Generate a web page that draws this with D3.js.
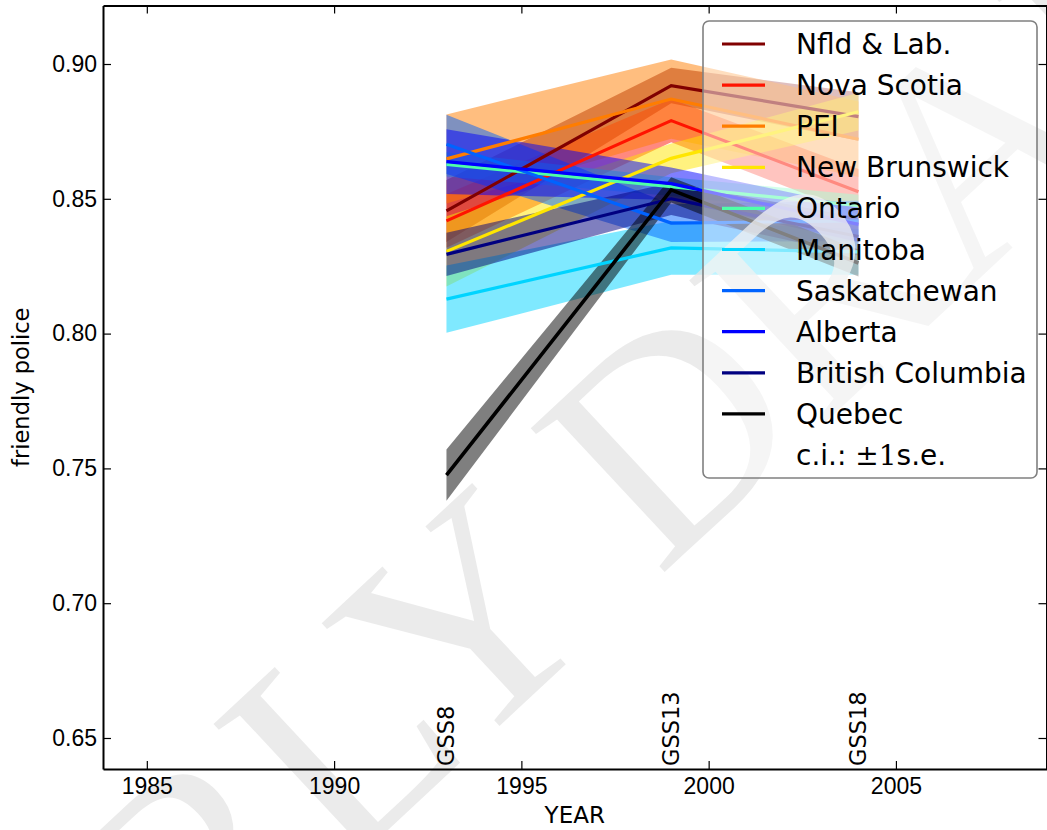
<!DOCTYPE html>
<html>
<head>
<meta charset="utf-8">
<script src="https://cdn.jsdelivr.net/npm/d3@7"></script>
<style>
  body { margin: 0; background: #fff; overflow: hidden; }
  svg { display: block; font-family: 'DejaVu Sans', sans-serif; }
</style>
</head>
<body>
<div id="chart"></div>
<script>
/* survey years and the GSS cycle that each one comes from */
const years = [1993, 1999, 2004];
const surveys = ['GSS8', 'GSS13', 'GSS18'];

/* provinces, in legend order (Quebec drawn in black) */
const provinces = ['Nfld & Lab.', 'Nova Scotia', 'PEI', 'New Brunswick', 'Ontario',
  'Manitoba', 'Saskatchewan', 'Alberta', 'British Columbia', 'Quebec'];
const colours = ['#800000', '#ff1400', '#ff7d00', '#ffe600', '#4effa9',
  '#00d4ff', '#0063ff', '#0000ff', '#000080', '#000000'];

/* mean share answering "friendly police", one value per survey year */
const nfld = [0.8455, 0.8920, 0.8805];
const novaScotia = [0.8418, 0.8790, 0.8526];
const pei = [0.8648, 0.8870, 0.8721];
const newBrunswick = [0.8305, 0.8650, 0.8823];
const ontario = [0.8628, 0.8545, 0.8475];
const manitoba = [0.8128, 0.8318, 0.8303];
const saskatchewan = [0.8702, 0.8410, 0.8418];
const alberta = [0.8638, 0.8556, 0.8405];
const britishColumbia = [0.8294, 0.8500, 0.8360];
const quebec = [0.7475, 0.8533, 0.8262];

/* standard errors (band is +/- 1 s.e.) */
const nfldSE = [0.0115, 0.0066, 0.0090];
const novaScotiaSE = [0.0100, 0.0080, 0.0085];
const peiSE = [0.0165, 0.0147, 0.0140];
const newBrunswickSE = [0.0130, 0.0055, 0.0070];
const ontarioSE = [0.0045, 0.0035, 0.0040];
const manitobaSE = [0.0125, 0.0100, 0.0085];
const saskatchewanSE = [0.0110, 0.0070, 0.0075];
const albertaSE = [0.0120, 0.0060, 0.0065];
const britishColumbiaSE = [0.0080, 0.0060, 0.0070];
const quebecSE = [0.0095, 0.0047, 0.0050];

const xTicks = [1985, 1990, 1995, 2000, 2005];
const yTicks = [0.65, 0.70, 0.75, 0.80, 0.85, 0.90];

const means = [nfld, novaScotia, pei, newBrunswick, ontario, manitoba, saskatchewan, alberta, britishColumbia, quebec];
const errs = [nfldSE, novaScotiaSE, peiSE, newBrunswickSE, ontarioSE, manitobaSE, saskatchewanSE, albertaSE, britishColumbiaSE, quebecSE];

const series = provinces.map(function (name, i) {
  return {
    name: name,
    colour: colours[i],
    values: years.map(function (yr, j) {
      return { year: yr, value: means[i][j], se: errs[i][j] };
    })
  };
});

/* plot box */
const margin = { top: 5.5, right: 0.5, bottom: 61, left: 103 };
const width = 1047 - margin.left - margin.right;
const height = 830 - margin.top - margin.bottom;

const svgRoot = d3.select('#chart')
  .append('svg')
  .attr('width', 1047)
  .attr('height', 830);

/* layers: data, then watermark, then axes + text, then legend */
const dataLayer = svgRoot.append('g')
  .attr('transform', 'translate(' + margin.left + ',' + margin.top + ')');
const markLayer = svgRoot.append('g');
const svg = svgRoot.append('g')
  .attr('transform', 'translate(' + margin.left + ',' + margin.top + ')');

const x = d3.scaleLinear().domain([1983.83, 2009.02]).range([0, width]);
const y = d3.scaleLinear().domain([0.6385, 0.9217]).range([height, 0]);

/* +/- 1 s.e. bands */
const band = d3.area()
  .x(function (d) { return x(d.year); })
  .y0(function (d) { return y(d.value - d.se); })
  .y1(function (d) { return y(d.value + d.se); });

dataLayer.selectAll('.band')
  .data(series)
  .enter()
  .append('path')
  .attr('class', 'band')
  .attr('d', function (d) { return band(d.values); })
  .attr('fill', function (d) { return d.colour; })
  .attr('fill-opacity', 0.5);

/* mean lines */
const line = d3.line()
  .x(function (d) { return x(d.year); })
  .y(function (d) { return y(d.value); });

dataLayer.selectAll('.trend')
  .data(series)
  .enter()
  .append('path')
  .attr('class', 'trend')
  .attr('d', function (d) { return line(d.values); })
  .attr('stroke', function (d) { return d.colour; })
  .attr('stroke-width', function (d) { return d.name === 'Quebec' ? 3.6 : 3.2; })
  .attr('fill', 'none');

/* faint draft watermark */
markLayer.append('text')
  .attr('transform', 'translate(640,595) rotate(-43)')
  .attr('text-anchor', 'middle')
  .style('font-family', "'Liberation Serif', serif")
  .style('font-size', '300px')
  .attr('fill', '#e4e4e4')
  .attr('fill-opacity', 0.75)
  .text('EARLY DRAFT');

/* survey labels standing on the x axis */
svg.selectAll('.survey')
  .data(surveys)
  .enter()
  .append('text')
  .attr('transform', function (d, i) { return 'translate(' + x(years[i]) + ',' + (height - 3) + ') rotate(-90)'; })
  .attr('dy', '0.35em')
  .style('font-size', '22.5px')
  .text(function (d) { return d; });

/* axes, ticks pointing inwards on all four sides */
function styleAxis (g) {
  g.select('.domain').attr('stroke', '#000').attr('stroke-width', 2);
  g.selectAll('.tick line').attr('stroke', '#000').attr('stroke-width', 1.2);
  g.selectAll('.tick text').style('font-size', '23px').attr('fill', '#000');
}

svg.append('g')
  .attr('transform', 'translate(0,' + height + ')')
  .call(d3.axisBottom(x).tickValues(xTicks).tickFormat(d3.format('d'))
    .tickSizeInner(-8).tickSizeOuter(0).tickPadding(9))
  .call(styleAxis);

svg.append('g')
  .call(d3.axisTop(x).tickValues(xTicks).tickFormat('')
    .tickSizeInner(-8).tickSizeOuter(0))
  .call(styleAxis);

svg.append('g')
  .call(d3.axisLeft(y).tickValues(yTicks).tickFormat(d3.format('.2f'))
    .tickSizeInner(-8).tickSizeOuter(0).tickPadding(6))
  .call(styleAxis);

svg.append('g')
  .attr('transform', 'translate(' + width + ',0)')
  .call(d3.axisRight(y).tickValues(yTicks).tickFormat('')
    .tickSizeInner(-8).tickSizeOuter(0))
  .call(styleAxis);

/* axis titles */
svgRoot.append('text')
  .attr('x', margin.left + width / 2)
  .attr('y', 823)
  .attr('text-anchor', 'middle')
  .style('font-size', '23px')
  .text('YEAR');

svgRoot.append('text')
  .attr('transform', 'translate(29,' + (margin.top + height / 2) + ') rotate(-90)')
  .attr('text-anchor', 'middle')
  .style('font-size', '22.5px')
  .text('friendly police');

/* legend, half transparent like the original */
const legend = svgRoot.append('g')
  .attr('transform', 'translate(703,21)');

legend.append('rect')
  .attr('width', 334)
  .attr('height', 457)
  .attr('rx', 6)
  .attr('fill', '#fff')
  .attr('fill-opacity', 0.5)
  .attr('stroke', '#808080')
  .attr('stroke-width', 1.6);

const rowGap = 41.1;
const rows = legend.selectAll('.entry')
  .data(series)
  .enter()
  .append('g')
  .attr('transform', function (d, i) { return 'translate(0,' + (23 + i * rowGap) + ')'; });

rows.append('line')
  .attr('x1', 19)
  .attr('x2', 62)
  .attr('stroke', function (d) { return d.colour; })
  .attr('stroke-width', 3.2);

rows.append('text')
  .attr('x', 93)
  .attr('dy', '0.36em')
  .style('font-size', '28px')
  .text(function (d) { return d.name; });

const ci = legend.append('text')
  .attr('x', 93)
  .attr('y', 23 + provinces.length * rowGap)
  .attr('dy', '0.36em')
  .style('font-size', '28px');
ci.append('tspan').text('c.i.: ');
ci.append('tspan').style('font-family', "'DejaVu Serif', serif").text('\u00b11');
ci.append('tspan').text('s.e.');
</script>
</body>
</html>
